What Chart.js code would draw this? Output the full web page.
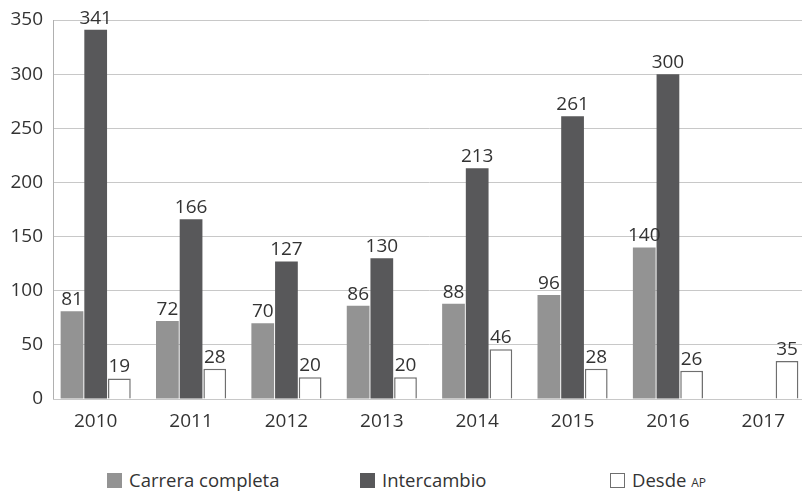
<!DOCTYPE html>
<html>
<head>
<meta charset="utf-8">
<script src="https://cdn.jsdelivr.net/npm/chart.js@4"></script>
<style>
  html, body { margin: 0; padding: 0; background: #fff; overflow: hidden; }
  #wrap { position: absolute; left: 0; top: 0; width: 811px; height: 440px; }
  .legend { position: absolute; top: 467px; font-family: "Open Sans", sans-serif; font-size: 18.5px; color: #333; }
  .legend span.box { display: inline-block; width: 15px; height: 15px; vertical-align: -1px; margin-right: 7px; box-sizing: border-box; }
  .sc { font-size: 12px; }
</style>
</head>
<body>
<div id="wrap"><canvas id="grafico"></canvas></div>
<div class="legend" style="left:107px"><span class="box" style="background:#939393"></span>Carrera completa</div>
<div class="legend" style="left:360px"><span class="box" style="background:#58585a"></span>Intercambio</div>
<div class="legend" style="left:610px"><span class="box" style="background:#fff;border:1px solid #6f6f6f"></span>Desde <span class="sc">AP</span></div>
<script>
const anos = ['2010', '2011', '2012', '2013', '2014', '2015', '2016', '2017'];
const carreraCompleta = [81, 72, 70, 86, 88, 96, 140, null];
const intercambio = [341, 166, 127, 130, 213, 261, 300, null];
const desdeAP = [19, 28, 20, 20, 46, 28, 26, 35];

const fonte = { family: 'Open Sans', size: 19 };
const recuoEixo = 5; // o eixo y fica um pouco à direita do início da primeira categoria

// eixo y deslocado
const eixo = {
    id: 'eixo',
    beforeDatasetsDraw(chart) {
        const { ctx, chartArea: a } = chart;
        ctx.save();
        ctx.fillStyle = '#fff';
        ctx.fillRect(a.left - 1, a.top - 2, recuoEixo + 1, a.bottom - a.top + 4);
        ctx.strokeStyle = '#b0b0b0';
        ctx.lineWidth = 1;
        ctx.beginPath();
        ctx.moveTo(a.left + recuoEixo + 0.5, a.top);
        ctx.lineTo(a.left + recuoEixo + 0.5, a.bottom);
        ctx.stroke();
        ctx.restore();
    }
};

// rotulos acima das barras
const rotulos = {
    id: 'rotulos',
    afterDatasetsDraw(chart) {
        const ctx = chart.ctx;
        ctx.save();
        ctx.font = '19px "Open Sans", sans-serif';
        ctx.fillStyle = '#333';
        ctx.textAlign = 'center';
        ctx.textBaseline = 'alphabetic';
        chart.data.datasets.forEach((ds, i) => {
            chart.getDatasetMeta(i).data.forEach((bar, j) => {
                if (ds.data[j] == null) return;
                ctx.fillText(ds.data[j], bar.x, bar.y - 6);
            });
        });
        ctx.restore();
    }
};

new Chart(document.getElementById('grafico'), {
    type: 'bar',
    data: {
        labels: anos,
        datasets: [
            { label: 'Carrera completa', data: carreraCompleta, backgroundColor: '#939393' },
            { label: 'Intercambio', data: intercambio, backgroundColor: '#58585a' },
            { label: 'Desde AP', data: desdeAP, backgroundColor: '#ffffff', borderColor: '#6f6f6f', borderWidth: 1.5 }
        ]
    },
    options: {
        responsive: true,
        maintainAspectRatio: false,
        animation: false,
        layout: { padding: { top: 20, left: 0, right: 0, bottom: 0 } },
        categoryPercentage: 0.745,
        barPercentage: 0.96,
        plugins: { legend: { display: false }, tooltip: { enabled: false } },
        scales: {
            x: {
                grid: { display: false },
                border: { color: '#c8c8c8' },
                ticks: { color: '#333', font: fonte, padding: 3 },
                afterFit(s) { s.height = 41; }
            },
            y: {
                min: 0,
                max: 350,
                ticks: { stepSize: 50, color: '#333', font: fonte, padding: 5 },
                grid: { color: '#c8c8c8', drawTicks: false },
                border: { display: false },
                afterFit(s) { s.width = 48; }
            }
        }
    },
    plugins: [eixo, rotulos]
});
</script>
</body>
</html>
